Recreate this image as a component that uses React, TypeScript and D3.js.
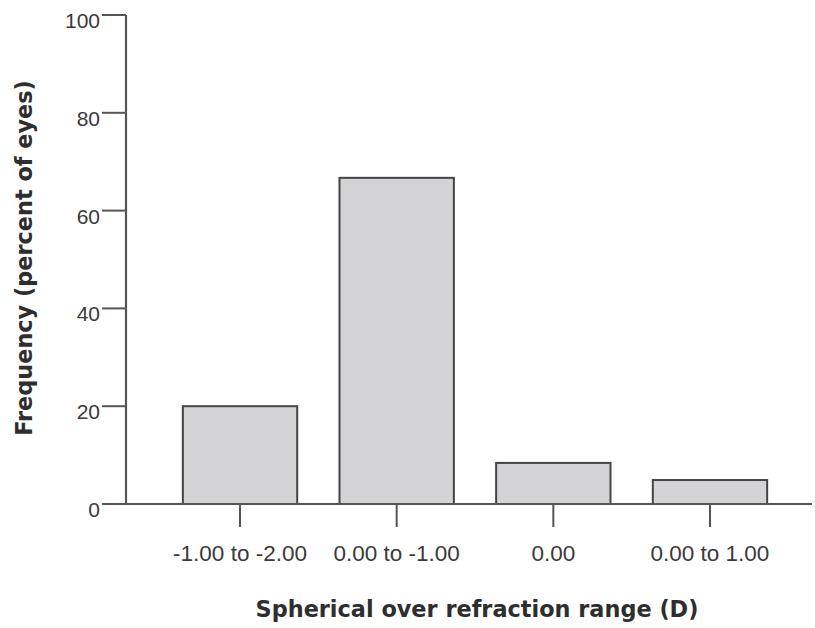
import React from "react";
import * as d3 from "d3";

const categories = ["-1.00 to -2.00", "0.00 to -1.00", "0.00", "0.00 to 1.00"];
const values = [20.0, 66.7, 8.4, 4.9];
const yTicks = [0, 20, 40, 60, 80, 100];
const xTitle = "Spherical over refraction range (D)";
const yTitle = "Frequency (percent of eyes)";

const W = 815;
const H = 628;
const axisX = 126;
const axisY = 504;
const topY = 15;
const axisRight = 812;

export default function App() {
  const y = d3.scaleLinear().domain([0, 100]).range([axisY, topY]);
  const x = d3
    .scaleBand<string>()
    .domain(categories)
    .range([161.7, 788.3])
    .paddingInner(0.27)
    .paddingOuter(0.135);

  const axisColor = "#555";
  const textColor = "#3a3a3a";
  const labelFont = "'Liberation Sans', Arial, sans-serif";
  const titleFont = "'DejaVu Sans', Verdana, sans-serif";

  return (
    <svg
      width={W}
      height={H}
      style={{ position: "absolute", left: 0, top: 0, background: "#fff" }}
    >
      {/* bars */}
      {categories.map((c, i) => (
        <rect
          key={c}
          x={x(c)!}
          y={y(values[i])}
          width={x.bandwidth()}
          height={axisY - y(values[i])}
          fill="#d4d4d6"
          stroke="#444"
          strokeWidth={2}
        />
      ))}

      {/* y axis */}
      <line x1={axisX} x2={axisX} y1={topY} y2={axisY} stroke={axisColor} strokeWidth={2.2} />
      {yTicks.map((t) => (
        <g key={t}>
          <line x1={axisX - 24} x2={axisX} y1={y(t)} y2={y(t)} stroke={axisColor} strokeWidth={2} />
          <text
            x={100}
            y={y(t) + 13}
            textAnchor="end"
            fontFamily={labelFont}
            fontSize={21}
            fill={textColor}
          >
            {t}
          </text>
        </g>
      ))}

      {/* x axis */}
      <line x1={axisX - 24} x2={axisRight} y1={axisY} y2={axisY} stroke={axisColor} strokeWidth={2.2} />
      {categories.map((c) => {
        const cx = x(c)! + x.bandwidth() / 2;
        return (
          <g key={c}>
            <line x1={cx} x2={cx} y1={axisY} y2={axisY + 23} stroke={axisColor} strokeWidth={2} />
            <text
              x={cx}
              y={561}
              textAnchor="middle"
              fontFamily={labelFont}
              fontSize={22.5}
              fill={textColor}
            >
              {c}
            </text>
          </g>
        );
      })}

      {/* titles */}
      <text
        x={477}
        y={617}
        textAnchor="middle"
        fontFamily={titleFont}
        fontWeight="bold"
        fontSize={22.4}
        fill="#2e2e2e"
      >
        {xTitle}
      </text>
      <text
        transform={`translate(32, 258) rotate(-90)`}
        textAnchor="middle"
        fontFamily={titleFont}
        fontWeight="bold"
        fontSize={22.4}
        fill="#2e2e2e"
      >
        {yTitle}
      </text>
    </svg>
  );
}
